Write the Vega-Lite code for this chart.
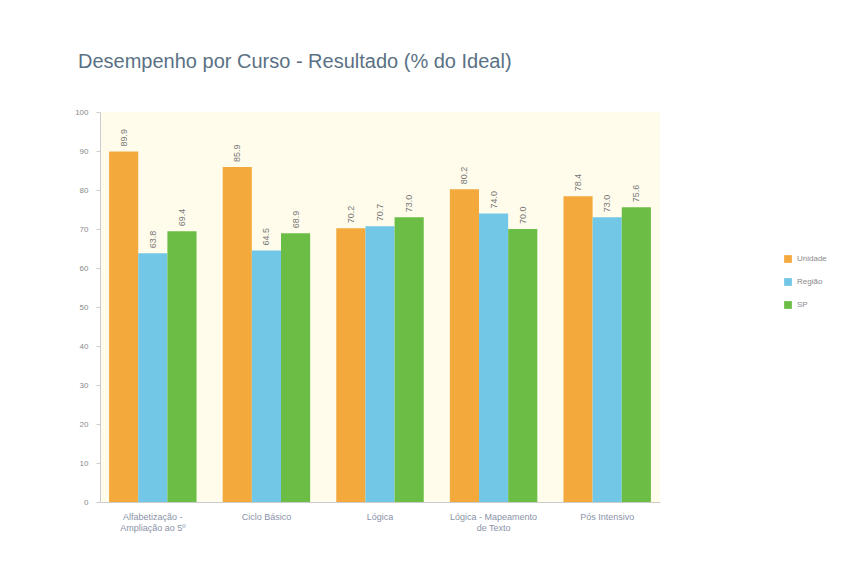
{
  "$schema": "https://vega.github.io/schema/vega-lite/v6.json",
  "width": 560,
  "height": 390,
  "autosize": {"type": "none"},
  "padding": {"left": 100, "top": 112, "right": 187, "bottom": 63},
  "background": "#ffffff",
  "title": {
    "text": "Desempenho por Curso - Resultado (% do Ideal)",
    "anchor": "start",
    "frame": "group",
    "dx": -22,
    "offset": 36,
    "fontSize": 20,
    "font": "Liberation Sans",
    "fontWeight": "normal",
    "color": "#5a7184"
  },
  "data": {
    "values": [
      {"curso": "Alfabetização - Ampliação ao 5º", "grupo": "Unidade", "valor": 89.9},
      {"curso": "Alfabetização - Ampliação ao 5º", "grupo": "Região", "valor": 63.8},
      {"curso": "Alfabetização - Ampliação ao 5º", "grupo": "SP", "valor": 69.4},
      {"curso": "Ciclo Básico", "grupo": "Unidade", "valor": 85.9},
      {"curso": "Ciclo Básico", "grupo": "Região", "valor": 64.5},
      {"curso": "Ciclo Básico", "grupo": "SP", "valor": 68.9},
      {"curso": "Lógica", "grupo": "Unidade", "valor": 70.2},
      {"curso": "Lógica", "grupo": "Região", "valor": 70.7},
      {"curso": "Lógica", "grupo": "SP", "valor": 73.0},
      {"curso": "Lógica - Mapeamento de Texto", "grupo": "Unidade", "valor": 80.2},
      {"curso": "Lógica - Mapeamento de Texto", "grupo": "Região", "valor": 74.0},
      {"curso": "Lógica - Mapeamento de Texto", "grupo": "SP", "valor": 70.0},
      {"curso": "Pós Intensivo", "grupo": "Unidade", "valor": 78.4},
      {"curso": "Pós Intensivo", "grupo": "Região", "valor": 73.0},
      {"curso": "Pós Intensivo", "grupo": "SP", "valor": 75.6}
    ]
  },
  "encoding": {
    "x": {
      "field": "curso",
      "type": "nominal",
      "sort": null,
      "title": null,
      "scale": {"paddingInner": 0.23, "paddingOuter": 0.08},
      "axis": {
        "labelAngle": 0,
        "labelFontSize": 9,
        "labelColor": "#8a93a8",
        "labelFont": "Liberation Sans",
        "labelAlign": "center",
        "labelLimit": 200,
        "labelPadding": 10,
        "domainColor": "#cccccc",
        "ticks": false,
        "labelExpr": "datum.value == 'Alfabetização - Ampliação ao 5º' ? ['Alfabetização -', 'Ampliação ao 5º'] : datum.value == 'Lógica - Mapeamento de Texto' ? ['Lógica - Mapeamento', 'de Texto'] : datum.value"
      }
    },
    "xOffset": {"field": "grupo", "type": "nominal", "sort": ["Unidade", "Região", "SP"]},
    "y": {
      "field": "valor",
      "type": "quantitative",
      "title": null,
      "scale": {"domain": [0, 100]},
      "axis": {
        "values": [0, 10, 20, 30, 40, 50, 60, 70, 80, 90, 100],
        "labelOverlap": false,
        "grid": false,
        "labelFontSize": 8,
        "labelColor": "#8a8a8a",
        "labelFont": "Liberation Sans",
        "domainColor": "#cccccc",
        "tickColor": "#cccccc",
        "tickSize": 4,
        "labelPadding": 8
      }
    }
  },
  "layer": [
    {
      "mark": {"type": "bar"},
      "encoding": {
        "color": {
          "field": "grupo",
          "type": "nominal",
          "sort": ["Unidade", "Região", "SP"],
          "scale": {"domain": ["Unidade", "Região", "SP"], "range": ["#f3a93c", "#72c6e6", "#6cbd45"]},
          "legend": {
            "title": null,
            "orient": "none",
            "legendX": 683,
            "legendY": 142,
            "symbolType": "square",
            "symbolSize": 60,
            "labelFontSize": 8,
            "labelColor": "#8a8a8a",
            "rowPadding": 14,
            "labelFont": "Liberation Sans"
          }
        }
      }
    },
    {
      "mark": {"type": "text", "angle": 270, "align": "left", "baseline": "middle", "dx": 5, "fontSize": 9, "color": "#777777", "font": "Liberation Sans"},
      "encoding": {
        "text": {"field": "valor", "type": "quantitative", "format": ".1f"}
      }
    }
  ],
  "config": {
    "view": {"fill": "#fffcec", "stroke": null},
    "axis": {"domainWidth": 1}
  }
}
